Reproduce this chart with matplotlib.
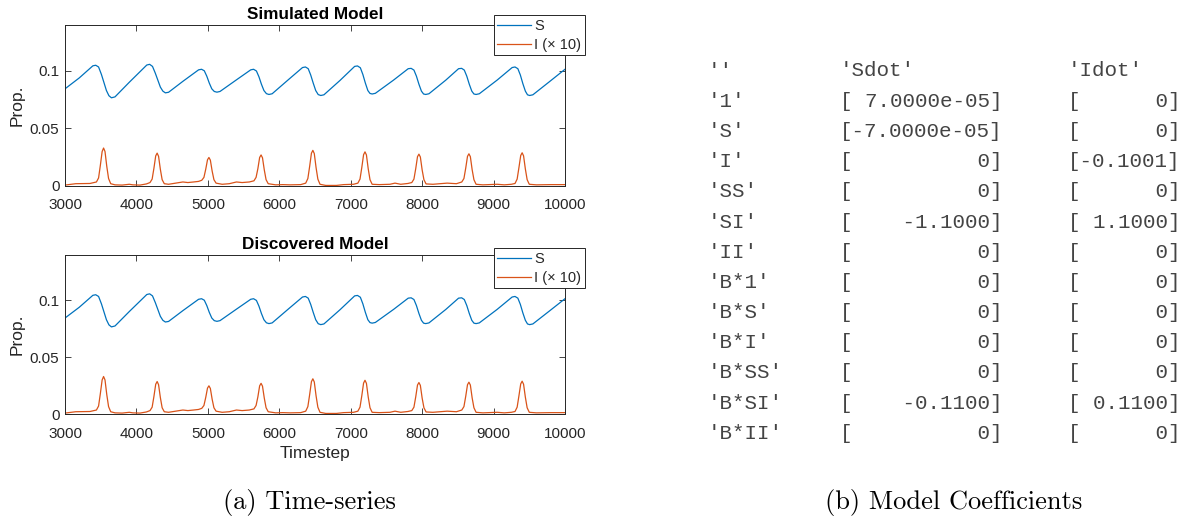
import matplotlib.pyplot as plt
from matplotlib.lines import Line2D

# S proportion read at the turning points of each cycle
t_s = [3000, 3200, 3390, 3430, 3470, 3510, 3545, 3580, 3615, 3650, 3700,
       3900, 4145, 4185, 4225, 4265, 4300, 4335, 4370, 4405, 4450,
       4650, 4870, 4912, 4950, 4985, 5020, 5055, 5090, 5127, 5170,
       5400, 5600, 5640, 5680, 5715, 5750, 5785, 5820, 5855, 5900,
       6130, 6325, 6366, 6405, 6440, 6475, 6510, 6545, 6581, 6625,
       6850, 7055, 7095, 7135, 7170, 7205, 7240, 7270, 7300, 7345,
       7600, 7805, 7846, 7885, 7920, 7955, 7990, 8020, 8050, 8095,
       8330, 8510, 8553, 8590, 8625, 8660, 8695, 8725, 8755, 8800,
       9050, 9260, 9300, 9340, 9375, 9410, 9445, 9475, 9505, 9550,
       9780, 10000]
s_prop = [0.0845, 0.0940, 0.1045, 0.1050, 0.1035, 0.0970, 0.0900, 0.0830, 0.0785, 0.0767, 0.0775,
          0.0902, 0.1052, 0.1058, 0.1040, 0.0980, 0.0920, 0.0860, 0.0825, 0.0810, 0.0815,
          0.0910, 0.1010, 0.1015, 0.1002, 0.0955, 0.0895, 0.0845, 0.0822, 0.0816, 0.0822,
          0.0923, 0.1010, 0.1015, 0.1000, 0.0950, 0.0885, 0.0830, 0.0803, 0.0796, 0.0802,
          0.0926, 0.1030, 0.1035, 0.1020, 0.0965, 0.0895, 0.0830, 0.0795, 0.0787, 0.0793,
          0.0918, 0.1040, 0.1044, 0.1028, 0.0970, 0.0895, 0.0830, 0.0805, 0.0800, 0.0806,
          0.0921, 0.1020, 0.1023, 0.1008, 0.0955, 0.0885, 0.0825, 0.0800, 0.0796, 0.0802,
          0.0920, 0.1020, 0.1023, 0.1008, 0.0955, 0.0885, 0.0825, 0.0800, 0.0796, 0.0802,
          0.0921, 0.1030, 0.1035, 0.1020, 0.0965, 0.0890, 0.0825, 0.0793, 0.0787, 0.0793,
          0.0906, 0.1015]

# I proportion, shown multiplied by 10
t_i = [3000, 3150, 3350,
       3440, 3470, 3495, 3520, 3540, 3560, 3585, 3610, 3640,
       3700, 3800, 3900, 3950, 4050, 4140,
       4190, 4220, 4245, 4270, 4290, 4310, 4335, 4360, 4390,
       4450, 4550, 4650, 4720, 4800, 4870,
       4915, 4945, 4970, 4995, 5015, 5035, 5060, 5085, 5115,
       5200, 5300, 5400, 5480, 5580,
       5645, 5675, 5700, 5725, 5745, 5765, 5790, 5815, 5845,
       5950, 6050, 6150, 6300,
       6370, 6400, 6425, 6450, 6470, 6490, 6515, 6540, 6570,
       6650, 6800, 6900, 7040,
       7100, 7130, 7155, 7180, 7200, 7220, 7245, 7270, 7300,
       7400, 7550, 7620, 7700, 7800,
       7855, 7885, 7910, 7935, 7955, 7975, 8000, 8025, 8055,
       8150, 8350, 8480,
       8555, 8585, 8610, 8635, 8655, 8675, 8700, 8725, 8755,
       8850, 9050, 9150, 9250,
       9300, 9330, 9355, 9380, 9400, 9420, 9445, 9470, 9500,
       9600, 9800, 10000]
i_x10 = [0.0008, 0.0020, 0.0022,
         0.0035, 0.0070, 0.0180, 0.0300, 0.0330, 0.0300, 0.0170, 0.0065, 0.0020,
         0.0010, 0.0008, 0.0015, 0.0010, 0.0008, 0.0018,
         0.0030, 0.0060, 0.0155, 0.0262, 0.0286, 0.0258, 0.0145, 0.0055, 0.0020,
         0.0015, 0.0025, 0.0035, 0.0030, 0.0035, 0.0040,
         0.0050, 0.0075, 0.0145, 0.0228, 0.0248, 0.0225, 0.0130, 0.0055, 0.0025,
         0.0015, 0.0020, 0.0035, 0.0030, 0.0035,
         0.0045, 0.0075, 0.0150, 0.0248, 0.0270, 0.0245, 0.0140, 0.0055, 0.0020,
         0.0010, 0.0012, 0.0010, 0.0012,
         0.0025, 0.0065, 0.0170, 0.0285, 0.0310, 0.0282, 0.0160, 0.0060, 0.0015,
         0.0005, 0.0005, 0.0012, 0.0015,
         0.0025, 0.0060, 0.0160, 0.0272, 0.0297, 0.0270, 0.0150, 0.0055, 0.0015,
         0.0012, 0.0015, 0.0025, 0.0015, 0.0022,
         0.0030, 0.0060, 0.0150, 0.0255, 0.0277, 0.0252, 0.0140, 0.0055, 0.0018,
         0.0015, 0.0025, 0.0020,
         0.0035, 0.0065, 0.0155, 0.0258, 0.0280, 0.0255, 0.0142, 0.0055, 0.0015,
         0.0010, 0.0015, 0.0010, 0.0015,
         0.0022, 0.0060, 0.0160, 0.0265, 0.0289, 0.0262, 0.0148, 0.0055, 0.0015,
         0.0010, 0.0012, 0.0012]

x_ticks = [3000, 4000, 5000, 6000, 7000, 8000, 9000, 10000]
y_ticks = [0, 0.05, 0.1]
y_tick_labels = ['0', '0.05', '0.1']
panel_titles = ['Simulated Model', 'Discovered Model']
series_labels = ['S', 'I (\u00d7 10)']

# identified coefficients
terms = ['1', 'S', 'I', 'SS', 'SI', 'II', 'B*1', 'B*S', 'B*I', 'B*SS', 'B*SI', 'B*II']
sdot = [7e-05, -7e-05, 0, 0, -1.1, 0, 0, 0, 0, 0, -0.11, 0]
idot = [0, 0, -0.1001, 0, 1.1, 0, 0, 0, 0, 0, 0.11, 0]

blue = '#0072BD'
orange = '#D95319'
dark = '#262626'

W, H = 1190, 521
plt.rcParams['font.family'] = ['Liberation Sans', 'DejaVu Sans']
fig = plt.figure(figsize=(W / 100, H / 100), dpi=100)


def fx(px):
    return px / W


def fy(px):
    return 1 - px / H


def panel(top, bottom, title, legend_top, show_xlabel):
    ax = fig.add_axes([fx(65), fy(bottom), fx(565) - fx(65), fy(top) - fy(bottom)])
    ax.plot(t_s, s_prop, color=blue, lw=0.9)
    ax.plot(t_i, i_x10, color=orange, lw=0.9)
    ax.set_xlim(3000, 10000)
    ax.set_ylim(0, 0.14)
    ax.set_xticks(x_ticks)
    ax.set_yticks(y_ticks)
    ax.set_yticklabels(y_tick_labels)
    ax.tick_params(direction='in', length=4, width=0.6, top=True, right=True,
                   colors=dark, labelsize=11)
    ax.tick_params(axis='x', pad=9)
    ax.tick_params(axis='y', pad=4)
    for sp in ax.spines.values():
        sp.set_color(dark)
        sp.set_linewidth(0.7)
    ax.set_title(title, fontsize=12.3, fontweight='bold', color='black', pad=4)
    ax.set_ylabel('Prop.', fontsize=12.5, color=dark, labelpad=4)
    if show_xlabel:
        ax.set_xlabel('Timestep', fontsize=12.5, color=dark, labelpad=4)
    handles = [Line2D([], [], color=blue, lw=0.9), Line2D([], [], color=orange, lw=0.9)]
    leg = ax.legend(handles, series_labels, loc='upper right',
                    bbox_to_anchor=(fx(585), fy(legend_top)), bbox_transform=fig.transFigure,
                    borderaxespad=0, fancybox=False, framealpha=1, edgecolor=dark,
                    fontsize=10.5, handlelength=2.3, handletextpad=0.25,
                    borderpad=0.25, labelspacing=0.35)
    leg.get_frame().set_linewidth(0.7)
    for txt in leg.get_texts():
        txt.set_color(dark)
    return ax


panel(25, 186, panel_titles[0], 15, False)
panel(255, 414, panel_titles[1], 248, True)

# coefficient table in MATLAB cell display style
mono = dict(family='Liberation Mono', fontsize=15, color='#444444', va='center', ha='left')
col_x = [708, 840, 1068]
row0, step = 71, 30.2
fig.text(fx(col_x[0]), fy(row0), "''", **mono)
fig.text(fx(col_x[1]), fy(row0), "'Sdot'", **mono)
fig.text(fx(col_x[2]), fy(row0), "'Idot'", **mono)


def fmt(v):
    if v == 0:
        return '0'
    if abs(v) < 1e-3:
        return f'{v:.4e}'
    return f'{v:.4f}'


for k, term in enumerate(terms):
    y = fy(row0 + (k + 1) * step)
    fig.text(fx(col_x[0]), y, f"'{term}'", **mono)
    fig.text(fx(col_x[1]), y, '[' + fmt(sdot[k]).rjust(11) + ']', **mono)
    fig.text(fx(col_x[2]), y, '[' + fmt(idot[k]).rjust(7) + ']', **mono)

cap = dict(family=['cmr10', 'DejaVu Serif'], fontsize=19, ha='center', va='center', color='black')
fig.text(fx(309), fy(503), '(a) Time-series', **cap)
fig.text(fx(954), fy(503), '(b) Model Coefficients', **cap)

fig.savefig('out.png', dpi=100)
